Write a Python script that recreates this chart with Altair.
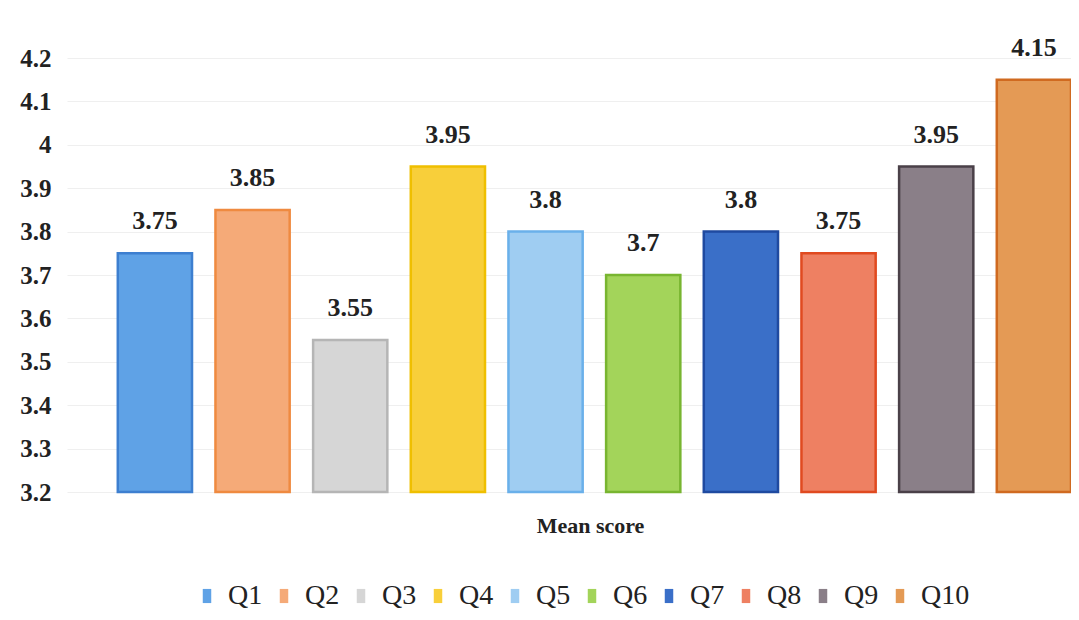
import altair as alt
import pandas as pd

questions = ["Q1", "Q2", "Q3", "Q4", "Q5", "Q6", "Q7", "Q8", "Q9", "Q10"]
scores = [3.75, 3.85, 3.55, 3.95, 3.8, 3.7, 3.8, 3.75, 3.95, 4.15]
fills = ["#5fa2e6", "#f5aa78", "#d6d6d6", "#f8cf3a", "#9fcdf2",
         "#a3d45a", "#3a6fc8", "#ee8062", "#8a7f88", "#e49a55"]
strokes = ["#3d7fd0", "#ef8a40", "#b5b5b5", "#efbf00", "#6ab0ea",
           "#78b530", "#1f4aa0", "#e04a20", "#4a4048", "#d06a20"]
y_ticks = [3.2, 3.3, 3.4, 3.5, 3.6, 3.7, 3.8, 3.9, 4.0, 4.1, 4.2]

df = pd.DataFrame({"q": questions, "score": scores})

serif = "'Times New Roman', 'Liberation Serif', 'DejaVu Serif', serif"

x = alt.X("q:N", sort=questions,
          scale=alt.Scale(paddingInner=0.24, paddingOuter=0.26, align=1),
          axis=alt.Axis(labels=False, ticks=False, domain=False, title="Mean score",
                        titleFont=serif, titleFontSize=22, titleFontWeight="bold",
                        titleColor="#222", titlePadding=23, titleX=523))
y = alt.Y("score:Q", scale=alt.Scale(domain=[3.2, 4.2], zero=False),
          axis=alt.Axis(values=y_ticks, title=None, domain=False, ticks=False,
                        labelFont=serif, labelFontSize=25, labelFontWeight="bold",
                        labelColor="#222", labelPadding=16,
                        labelExpr="datum.value == 4 ? '4' : format(datum.value, '.1f')",
                        gridColor="#efefef", gridWidth=1))

bars = alt.Chart(df).mark_bar(strokeWidth=2.5).encode(
    x=x, y=y, y2=alt.datum(3.2),
    color=alt.Color("q:N", sort=questions,
                    scale=alt.Scale(domain=questions, range=fills),
                    legend=alt.Legend(orient="none", direction="horizontal",
                                      legendX=126, legendY=524, title=None,
                                      symbolType="M-0.6,-1H0.6V1H-0.6Z",
                                      symbolSize=200,
                                      symbolStrokeWidth=0,
                                      labelFont=serif, labelFontSize=28,
                                      labelColor="#222", columnPadding=7,
                                      labelOffset=7)),
    stroke=alt.Stroke("q:N", sort=questions,
                      scale=alt.Scale(domain=questions, range=strokes), legend=None),
)

labels = alt.Chart(df).mark_text(dy=-32, font=serif, fontSize=26,
                                 fontWeight="bold", color="#222").encode(
    x=alt.X("q:N", sort=questions), y="score:Q", text=alt.Text("score:Q"))

chart = (bars + labels).properties(
    width=1004, height=434,
    autosize=alt.AutoSizeParams(type="none"),
    padding={"top": 50, "left": 59, "right": 0, "bottom": 125},
).configure_view(stroke=None).configure_axis(gridDash=[])

chart.save("out.html", embed_options={"renderer": "svg", "actions": False})
